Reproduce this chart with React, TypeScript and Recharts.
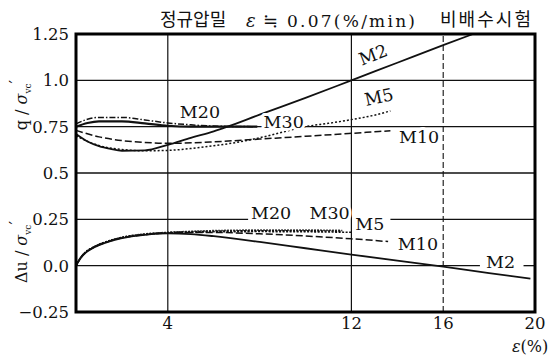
import { LineChart, Line, XAxis, YAxis, ReferenceLine, ReferenceDot } from 'recharts'

const INK = '#111'
const SERIF = 'DejaVu Serif'
const KR = 'Noto Sans CJK KR'

// chart box
const W = 558
const H = 356
const MARGIN = { top: 34, right: 23, left: 0, bottom: 0 }
const Y_W = 76
const X_H = 44

type P = { e: number; v: number }

const strainTicks = [4, 12, 16, 20]
const ratioTicks = [-0.25, 0, 0.25, 0.5, 0.75, 1.0, 1.25]

// q / σvc'
const qM2: P[] = [
  { e: 0, v: 0.71 }, { e: 0.5, v: 0.67 }, { e: 1, v: 0.645 }, { e: 1.5, v: 0.63 },
  { e: 2, v: 0.62 }, { e: 3, v: 0.622 }, { e: 4, v: 0.652 }, { e: 5, v: 0.69 },
  { e: 6, v: 0.725 }, { e: 6.6, v: 0.75 }, { e: 8, v: 0.815 }, { e: 10, v: 0.905 },
  { e: 12, v: 1.0 }, { e: 14, v: 1.095 }, { e: 16, v: 1.19 }, { e: 17.3, v: 1.25 },
]
const qM5: P[] = [
  { e: 0, v: 0.7 }, { e: 1, v: 0.648 }, { e: 2, v: 0.627 }, { e: 3, v: 0.62 },
  { e: 4, v: 0.622 }, { e: 5, v: 0.632 }, { e: 6, v: 0.647 }, { e: 7, v: 0.665 },
  { e: 8, v: 0.69 }, { e: 9, v: 0.72 }, { e: 10, v: 0.75 }, { e: 11, v: 0.768 },
  { e: 12, v: 0.788 }, { e: 13, v: 0.812 }, { e: 13.7, v: 0.835 },
]
const qM10: P[] = [
  { e: 0, v: 0.73 }, { e: 1, v: 0.695 }, { e: 2, v: 0.675 }, { e: 3, v: 0.665 },
  { e: 4, v: 0.66 }, { e: 6, v: 0.668 }, { e: 8, v: 0.683 }, { e: 10, v: 0.698 },
  { e: 12, v: 0.714 }, { e: 13.7, v: 0.728 },
]
const qM20: P[] = [
  { e: 0, v: 0.75 }, { e: 0.5, v: 0.77 }, { e: 1, v: 0.779 }, { e: 2, v: 0.779 },
  { e: 3, v: 0.768 }, { e: 4, v: 0.755 }, { e: 5, v: 0.75 }, { e: 7.9, v: 0.75 },
]
const qM30: P[] = [
  { e: 0, v: 0.765 }, { e: 0.5, v: 0.79 }, { e: 1, v: 0.8 }, { e: 2, v: 0.8 },
  { e: 3, v: 0.786 }, { e: 4, v: 0.77 }, { e: 5, v: 0.76 }, { e: 6, v: 0.753 },
  { e: 7.8, v: 0.75 },
]

// Δu / σvc'
const uM2: P[] = [
  { e: 0, v: 0 }, { e: 0.2, v: 0.04 }, { e: 0.4, v: 0.068 }, { e: 0.7, v: 0.093 },
  { e: 1, v: 0.11 }, { e: 1.5, v: 0.132 }, { e: 2, v: 0.148 }, { e: 3, v: 0.166 },
  { e: 4, v: 0.174 }, { e: 5, v: 0.17 }, { e: 6, v: 0.159 }, { e: 8, v: 0.128 },
  { e: 10, v: 0.094 }, { e: 12, v: 0.06 }, { e: 14, v: 0.027 }, { e: 16, v: -0.005 },
  { e: 18, v: -0.04 }, { e: 19.8, v: -0.07 },
]
const uM5: P[] = [
  { e: 0, v: 0 }, { e: 0.2, v: 0.042 }, { e: 0.4, v: 0.07 }, { e: 0.7, v: 0.095 },
  { e: 1, v: 0.113 }, { e: 1.5, v: 0.135 }, { e: 2, v: 0.151 }, { e: 3, v: 0.168 },
  { e: 4, v: 0.177 }, { e: 5, v: 0.181 }, { e: 6, v: 0.183 }, { e: 8, v: 0.184 },
  { e: 10, v: 0.183 }, { e: 12, v: 0.18 },
]
const uM10: P[] = [
  { e: 0, v: 0 }, { e: 0.2, v: 0.041 }, { e: 0.4, v: 0.069 }, { e: 0.7, v: 0.094 },
  { e: 1, v: 0.112 }, { e: 1.5, v: 0.134 }, { e: 2, v: 0.15 }, { e: 3, v: 0.167 },
  { e: 4, v: 0.176 }, { e: 5, v: 0.179 }, { e: 6, v: 0.179 }, { e: 8, v: 0.172 },
  { e: 10, v: 0.16 }, { e: 12, v: 0.145 }, { e: 13.6, v: 0.13 },
]
const uM20: P[] = [
  { e: 0, v: 0 }, { e: 0.2, v: 0.043 }, { e: 0.4, v: 0.071 }, { e: 0.7, v: 0.096 },
  { e: 1, v: 0.114 }, { e: 1.5, v: 0.136 }, { e: 2, v: 0.152 }, { e: 3, v: 0.17 },
  { e: 4, v: 0.178 }, { e: 5, v: 0.183 }, { e: 6, v: 0.186 }, { e: 8, v: 0.188 },
  { e: 10, v: 0.188 }, { e: 11.6, v: 0.186 },
]
const uM30: P[] = [
  { e: 0, v: 0 }, { e: 0.2, v: 0.044 }, { e: 0.4, v: 0.072 }, { e: 0.7, v: 0.097 },
  { e: 1, v: 0.115 }, { e: 1.5, v: 0.137 }, { e: 2, v: 0.153 }, { e: 3, v: 0.171 },
  { e: 4, v: 0.18 }, { e: 5, v: 0.185 }, { e: 6, v: 0.189 }, { e: 8, v: 0.192 },
  { e: 10, v: 0.192 }, { e: 11.6, v: 0.19 },
]

const curveNames = ['M2', 'M5', 'M10', 'M20', 'M30']
const qCurves = [qM2, qM5, qM10, qM20, qM30]
const uCurves = [uM2, uM5, uM10, uM20, uM30]

// curve tags, in data coordinates
const tagText = ['M20', 'M30', 'M2', 'M5', 'M10', 'M20', 'M30', 'M5', 'M10', 'M2']
const tagE = [5.4, 9.05, 12.95, 13.2, 14.95, 8.5, 11.05, 12.8, 14.9, 18.5]
const tagV = [0.829, 0.775, 1.137, 0.91, 0.694, 0.284, 0.284, 0.225, 0.117, 0.02]
const tagRot = [0, 0, -21, -12, 0, 0, 0, 0, 0, 0]

const styleOf: Record<string, { dash?: string; w: number }> = {
  M2: { w: 1.8 },
  M5: { dash: '2 2', w: 1.5 },
  M10: { dash: '7 3', w: 1.5 },
  M20: { w: 2.2 },
  M30: { dash: '6 2 1.5 2', w: 1.5 },
}
const uStyleOf: Record<string, { dash?: string; w: number }> = {
  M2: { w: 1.8 },
  M5: { dash: '2 1.5', w: 1.6 },
  M10: { dash: '7 3', w: 1.5 },
  M20: { dash: '2 1.5', w: 1.6 },
  M30: { dash: '1.5 1.5', w: 1.6 },
}

const fmtRatio = (v: number) => {
  if (v < 0) return '−0.25'
  if (v === 0) return '0.0'
  if (v === 1) return '1.0'
  return String(v)
}

// plot rectangle, from the chart box constants
const plotX = MARGIN.left + Y_W
const plotY = MARGIN.top
const plotW = W - MARGIN.right - plotX
const plotH = H - MARGIN.bottom - X_H - plotY

export default function App() {
  return (
    <div style={{ position: 'absolute', left: 0, top: 0, width: W, height: H, background: '#fff' }}>
      <LineChart width={W} height={H} margin={MARGIN}>
        <XAxis
          type="number"
          dataKey="e"
          domain={[0, 20]}
          ticks={strainTicks}
          interval={0}
          height={X_H}
          tickSize={0}
          tickMargin={5}
          axisLine={false}
          tick={{ fontFamily: SERIF, fontSize: 16.5, fill: INK }}
          allowDuplicatedCategory={false}
        />
        <YAxis
          type="number"
          domain={[-0.25, 1.25]}
          ticks={ratioTicks}
          interval={0}
          width={Y_W}
          tickSize={0}
          tickMargin={7}
          tickFormatter={fmtRatio}
          axisLine={false}
          tick={{ fontFamily: SERIF, fontSize: 16.5, fill: INK }}
        />
        <ReferenceLine y={1.0} stroke={INK} strokeWidth={1.3} />
        <ReferenceLine y={0.75} stroke={INK} strokeWidth={1.3} />
        <ReferenceLine y={0.5} stroke={INK} strokeWidth={1.3} />
        <ReferenceLine segment={[{ x: 0, y: 0.25 }, { x: 7.5, y: 0.25 }]} stroke={INK} strokeWidth={1.3} />
        <ReferenceLine segment={[{ x: 13.7, y: 0.25 }, { x: 20, y: 0.25 }]} stroke={INK} strokeWidth={1.3} />
        <ReferenceLine segment={[{ x: 0, y: 0 }, { x: 17.6, y: 0 }]} stroke={INK} strokeWidth={1.3} />
        <ReferenceLine segment={[{ x: 19.5, y: 0 }, { x: 20, y: 0 }]} stroke={INK} strokeWidth={1.3} />
        <ReferenceLine x={4} stroke={INK} strokeWidth={1.2} />
        <ReferenceLine x={12} stroke={INK} strokeWidth={1.2} />
        <ReferenceLine x={16} stroke={INK} strokeWidth={1.1} strokeDasharray="6 3" />
        {qCurves.map((d, i) => (
          <Line
            key={'q' + curveNames[i]}
            data={d}
            dataKey="v"
            type="monotone"
            stroke={INK}
            strokeWidth={styleOf[curveNames[i]].w}
            strokeDasharray={styleOf[curveNames[i]].dash}
            dot={false}
            activeDot={false}
            isAnimationActive={false}
          />
        ))}
        {uCurves.map((d, i) => (
          <Line
            key={'u' + curveNames[i]}
            data={d}
            dataKey="v"
            type="monotone"
            stroke={INK}
            strokeWidth={uStyleOf[curveNames[i]].w}
            strokeDasharray={uStyleOf[curveNames[i]].dash}
            dot={false}
            activeDot={false}
            isAnimationActive={false}
          />
        ))}
        {tagText.map((t, i) => (
          <ReferenceDot
            key={'tag' + i}
            x={tagE[i]}
            y={tagV[i]}
            r={0}
            ifOverflow="visible"
            shape={(p: any) => (
              <text
                x={p.cx}
                y={p.cy}
                textAnchor="middle"
                dominantBaseline="central"
                transform={tagRot[i] ? `rotate(${tagRot[i]}, ${p.cx}, ${p.cy})` : undefined}
                fontFamily={SERIF}
                fontSize={17.5}
                fill={INK}
                stroke="#fff"
                strokeWidth={6}
                strokeLinejoin="round"
                paintOrder="stroke"
              >
                {t}
              </text>
            )}
          />
        ))}
      </LineChart>
      <svg width={W} height={H} style={{ position: 'absolute', left: 0, top: 0, pointerEvents: 'none' }}>
        <path
          d={`M${plotX},${plotY} H${plotX + plotW} V${plotY + plotH} H${plotX} Z`}
          fill="none"
          stroke="#000"
          strokeWidth={3}
        />
        <g fill={INK} fontFamily={SERIF}>
          <text x={160} y={26} fontFamily={KR} fontSize={18}>정규압밀</text>
          <text x={246} y={27} fontSize={18} fontStyle="italic">ε</text>
          <text x={263} y={27} fontSize={18}>≒</text>
          <text x={287} y={27} fontSize={17} textLength={128} lengthAdjust="spacing">0.07(%/min)</text>
          <text x={440} y={26} fontFamily={KR} fontSize={18} textLength={91} lengthAdjust="spacing">비배수시험</text>
          <text transform="translate(27,105) rotate(-90)" textAnchor="middle" fontSize={16}>
            q / <tspan fontStyle="italic">σ</tspan>
            <tspan fontSize={9} dy={4}>vc</tspan>
            <tspan dy={-10}>′</tspan>
          </text>
          <text transform="translate(27,252) rotate(-90)" textAnchor="middle" fontSize={16}>
            Δu / <tspan fontStyle="italic">σ</tspan>
            <tspan fontSize={9} dy={4}>vc</tspan>
            <tspan dy={-10}>′</tspan>
          </text>
          <text x={512} y={352} fontSize={16}>
            <tspan fontStyle="italic">ε</tspan>(%)
          </text>
        </g>
      </svg>
    </div>
  )
}
